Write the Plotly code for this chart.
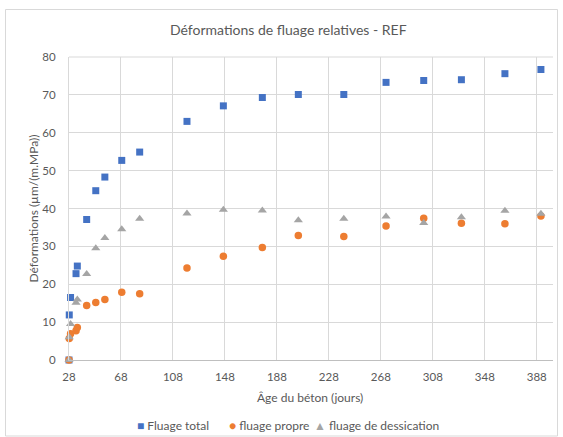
import plotly.graph_objects as go

# Concrete age (days) at each measurement
age_days = [28, 28.2, 29.2, 33.4, 34.4, 41.6, 48.6, 55.6, 68.6, 82.4,
            118.8, 146.8, 176.8, 204.5, 239.5, 272, 301, 330, 363.5, 391.2]

# Relative creep strains, µm/(m.MPa)
fluage_total = [0, 11.9, 16.5, 22.8, 24.8, 37.1, 44.7, 48.3, 52.7, 54.9,
                63.0, 67.1, 69.3, 70.1, 70.1, 73.3, 73.8, 74.0, 75.6, 76.7]
fluage_propre = [0, 5.7, 6.9, 7.7, 8.6, 14.4, 15.2, 16.0, 17.9, 17.5,
                 24.3, 27.4, 29.7, 32.9, 32.6, 35.4, 37.4, 36.1, 36.0, 38.0]
fluage_dessication = [0, 6.0, 9.5, 15.1, 16.0, 22.7, 29.5, 32.2, 34.5, 37.3,
                      38.7, 39.7, 39.5, 36.9, 37.3, 37.9, 36.2, 37.7, 39.4, 38.6]

x_ticks = [28, 68, 108, 148, 188, 228, 268, 308, 348, 388]
y_ticks = [0, 10, 20, 30, 40, 50, 60, 70, 80]

BLUE = "#4472C4"
ORANGE = "#ED7D31"
GRAY = "#A5A5A5"
TEXT = "#595959"
GRID = "#D9D9D9"
FONT = "Lato"

W, H = 563, 437
L, R, T, B = 69, 10, 57, 77
PW, PH = W - L - R, H - T - B


def px(x):
    return (x - L) / PW


def py(y):
    return (H - B - y) / PH


fig = go.Figure()
# series order: total first, then propre, dessication drawn last (on top)
series = [
    ("Fluage total", fluage_total, BLUE, "square", 7),
    ("fluage propre", fluage_propre, ORANGE, "circle", 7.5),
    ("fluage de dessication", fluage_dessication, GRAY, "triangle-up", 8),
]
for name, vals, col, sym, size in series:
    fig.add_trace(go.Scatter(
        x=age_days, y=vals, mode="markers", name=name,
        marker=dict(color=col, symbol=sym, size=size, line=dict(width=0)),
        cliponaxis=False, showlegend=False,
    ))

fig.update_layout(
    width=W, height=H,
    margin=dict(l=L, r=R, t=T, b=B),
    paper_bgcolor="white", plot_bgcolor="white",
    font=dict(family=FONT, color=TEXT, size=12),
    xaxis=dict(
        range=[28, 400.5], tickmode="array", tickvals=x_ticks,
        ticktext=[str(v) for v in x_ticks],
        showgrid=True, gridcolor=GRID, gridwidth=1,
        showline=True, linecolor="#BFBFBF", linewidth=1,
        zeroline=False, ticks="", ticklabelstandoff=6,
        tickfont=dict(size=11.5, color=TEXT),
    ),
    yaxis=dict(
        range=[0, 80], tickmode="array", tickvals=y_ticks,
        showgrid=True, gridcolor=GRID, gridwidth=1,
        showline=True, linecolor=GRID, linewidth=1, mirror=False,
        zeroline=False, ticks="", ticklabelstandoff=10,
        tickfont=dict(size=11.5, color=TEXT),
    ),
)

annotations = [
    dict(text="Déformations de fluage relatives - REF", x=px(288), y=py(30),
         font=dict(size=14, color=TEXT)),
    dict(text="Âge du béton (jours)", x=px(310), y=py(397),
         font=dict(size=12, color=TEXT)),
    dict(text="Déformations (µm/(m.MPa))", x=px(33), y=py(208.5),
         textangle=-90, font=dict(size=12, color=TEXT)),
]
# legend row
legend_items = [
    ("■", BLUE, "Fluage total", 135),
    ("●", ORANGE, "fluage propre", 227),
    ("▲", GRAY, "fluage de dessication", 312),
]
for glyph, col, label, x0 in legend_items:
    annotations.append(dict(
        text=f"<span style='color:{col}'>{glyph}</span> {label}",
        x=px(x0), y=py(425), xanchor="left",
        font=dict(size=12, color=TEXT),
    ))
for a in annotations:
    a.setdefault("xanchor", "center")
    a.update(xref="paper", yref="paper", yanchor="middle", showarrow=False)
fig.update_layout(annotations=annotations)

# top gridline and chart-area frame
fig.add_shape(type="line", xref="paper", yref="paper", x0=0, x1=1, y0=1, y1=1,
              line=dict(color=GRID, width=1), layer="below")
fig.add_shape(type="rect", xref="paper", yref="paper",
              x0=px(5.5), x1=px(557.5), y0=py(436), y1=py(9.5),
              line=dict(color=GRID, width=1), fillcolor="rgba(0,0,0,0)")

fig.write_html("out.html")
